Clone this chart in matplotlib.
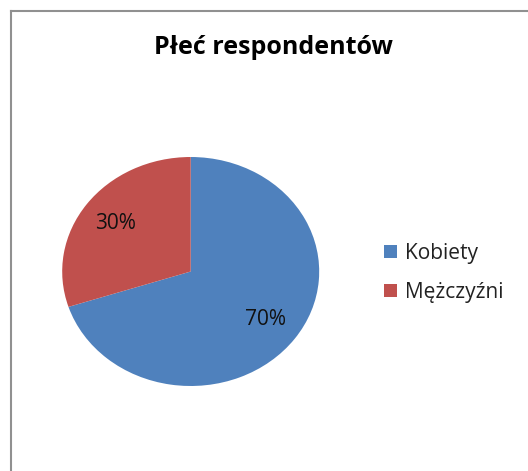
import matplotlib
matplotlib.use("Agg")
import matplotlib.pyplot as plt
from matplotlib.lines import Line2D

labels = ["Kobiety", "Mężczyźni"]
shares = [70, 30]
colors = ["#4F81BD", "#C0504D"]
title = "Płeć respondentów"

W, H = 528, 471
plt.rcParams["font.family"] = ["Open Sans", "DejaVu Sans"]

fig = plt.figure(figsize=(W / 100, H / 100), dpi=100)

# pie area in pixels (the original is stretched a bit horizontally)
cx, cy, rx, ry = 190.7, 271.5, 128.5, 114.5
ax = fig.add_axes([(cx - rx) / W, 1 - (cy + ry) / H, 2 * rx / W, 2 * ry / H])
wedges, _, autotexts = ax.pie(shares, colors=colors, startangle=90, counterclock=False,
                              autopct="%d%%", pctdistance=0.72,
                              textprops=dict(fontsize=15, color="#111111"))
ax.set_xlim(-1, 1)
ax.set_ylim(-1, 1)
ax.set_aspect("auto")

fig.text(273 / W, 1 - 54.3 / H, title, ha="center", va="baseline",
         fontsize=18, fontweight="bold")

leg = fig.legend(wedges, labels, loc="center left", bbox_to_anchor=(384 / W, 1 - 273 / H),
                 frameon=False, fontsize=15, handlelength=0.6, handleheight=0.55,
                 handletextpad=0.4, labelspacing=0.85, borderpad=0, borderaxespad=0)
for t in leg.get_texts():
    t.set_color("#222222")

# chart border (cropped: only left and top edges visible)
fig.add_artist(Line2D([10.5 / W, 10.5 / W], [0, 1 - 10.5 / H], transform=fig.transFigure,
                      color="#909090", lw=1.5))
fig.add_artist(Line2D([10.5 / W, 1], [1 - 10.5 / H, 1 - 10.5 / H], transform=fig.transFigure,
                      color="#909090", lw=1.5))

fig.savefig("out.png", dpi=100)
